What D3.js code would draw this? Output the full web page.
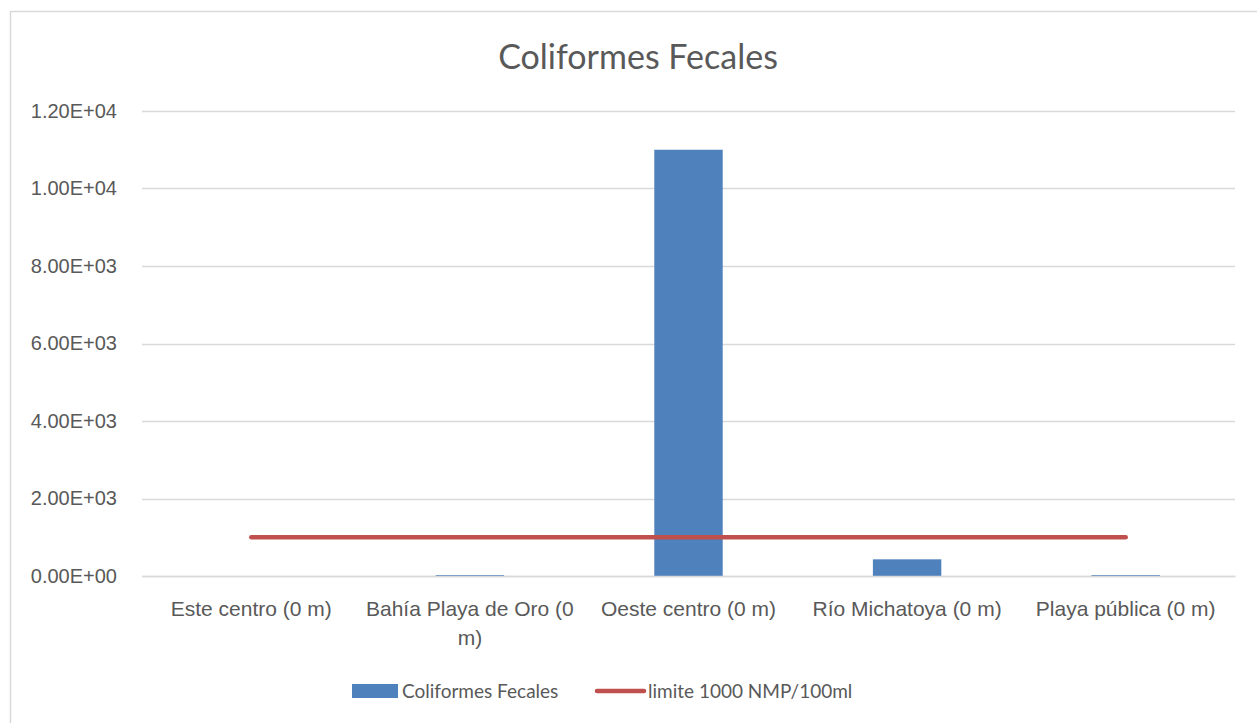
<!DOCTYPE html>
<html>
<head>
<meta charset="utf-8">
<script src="https://cdn.jsdelivr.net/npm/d3@7"></script>
<style>
  body { margin: 0; background: #fff; }
  svg { display: block; font-family: Lato, "Open Sans", sans-serif; }
</style>
</head>
<body>
<svg id="chart" width="1257" height="723"></svg>
<script>
// datos
var sitios = ["Este centro (0 m)", "Bahía Playa de Oro (0 m)", "Oeste centro (0 m)", "Río Michatoya (0 m)", "Playa pública (0 m)"];
var coliformes = [0, 23, 11000, 430, 23];
var limite = [1000, 1000, 1000, 1000, 1000];
var yTicks = [0, 2000, 4000, 6000, 8000, 10000, 12000];
var titulo = "Coliformes Fecales";
var serieBarras = "Coliformes Fecales";
var serieLinea = "limite 1000 NMP/100ml";

var gris = "#595959";
var svg = d3.select("#chart");

// marco
svg.append("rect")
  .attr("x", 10.5).attr("y", 11.5)
  .attr("width", 1400).attr("height", 900)
  .attr("fill", "none")
  .attr("stroke", "#d9d9d9")
  .attr("stroke-width", 1.5);

var x = d3.scaleBand()
  .domain(sitios)
  .range([142, 1235])
  .padding(0);

var y = d3.scaleLinear()
  .domain([0, 12000])
  .range([576, 111]);

// formato 1.20E+04
function fmt(v) {
  var p = v.toExponential(2).split("e");
  var e = parseInt(p[1]);
  var s = e < 0 ? "-" : "+";
  return p[0] + "E" + s + String(Math.abs(e)).padStart(2, "0");
}

// lineas de la cuadricula
svg.append("g")
  .selectAll("line")
  .data(yTicks)
  .enter().append("line")
    .attr("x1", 142).attr("x2", 1235)
    .attr("y1", d => Math.round(y(d)) + 0.5)
    .attr("y2", d => Math.round(y(d)) + 0.5)
    .attr("stroke", "#d9d9d9")
    .attr("stroke-width", 1.3);

// eje y
var ejeY = svg.append("g")
  .attr("transform", "translate(142,0)")
  .call(d3.axisLeft(y).tickValues(yTicks).tickFormat(fmt).tickSize(0).tickPadding(25));
ejeY.select(".domain").remove();
ejeY.selectAll("text")
  .attr("fill", gris)
  .style("font-size", "20px");

// barras
var barW = x.bandwidth() * 0.313;
svg.append("g")
  .selectAll("rect")
  .data(coliformes)
  .enter().append("rect")
    .attr("x", (d, i) => x(sitios[i]) + (x.bandwidth() - barW) / 2)
    .attr("y", d => y(d))
    .attr("width", barW)
    .attr("height", d => y(0) - y(d))
    .attr("fill", "#4f81bd");

// linea del limite
var linea = d3.line()
  .x((d, i) => x(sitios[i]) + x.bandwidth() / 2)
  .y(d => y(d));
svg.append("path")
  .datum(limite)
  .attr("d", linea)
  .attr("fill", "none")
  .attr("stroke", "#c0504d")
  .attr("stroke-width", 4.5)
  .attr("stroke-linecap", "round");

// eje x
var ejeX = svg.append("g")
  .attr("transform", "translate(0,576)")
  .call(d3.axisBottom(x).tickSize(0).tickPadding(25));
ejeX.select(".domain")
  .attr("stroke", "#d9d9d9")
  .attr("stroke-width", 1.3);
ejeX.selectAll("text")
  .attr("fill", gris)
  .style("font-size", "21px")
  .call(wrap, x.bandwidth() - 4);

function wrap(textos, ancho) {
  textos.each(function() {
    var t = d3.select(this);
    var palabras = t.text().split(/\s+/);
    var yy = t.attr("y"), dy = t.attr("dy");
    t.text(null);
    var linea = [];
    var n = 0;
    var tspan = t.append("tspan").attr("x", 0).attr("y", yy).attr("dy", dy);
    palabras.forEach(function(p) {
      linea.push(p);
      tspan.text(linea.join(" "));
      if (tspan.node().getComputedTextLength() > ancho && linea.length > 1) {
        linea.pop();
        tspan.text(linea.join(" "));
        linea = [p];
        n++;
        tspan = t.append("tspan").attr("x", 0).attr("y", yy)
          .attr("dy", (n * 1.38 + parseFloat(dy)) + "em").text(p);
      }
    });
  });
}

// titulo
svg.append("text")
  .attr("x", 638).attr("y", 69)
  .attr("text-anchor", "middle")
  .attr("fill", gris)
  .style("font-size", "34px")
  .text(titulo);

// leyenda
var ley = svg.append("g").attr("transform", "translate(0,691)");
ley.append("rect")
  .attr("x", 352).attr("y", -7)
  .attr("width", 46).attr("height", 14)
  .attr("fill", "#4f81bd");
ley.append("text")
  .attr("x", 402).attr("y", 0).attr("dy", "0.35em")
  .attr("fill", gris).style("font-size", "19px")
  .text(serieBarras);
ley.append("line")
  .attr("x1", 597).attr("x2", 644)
  .attr("y1", 0).attr("y2", 0)
  .attr("stroke", "#c0504d")
  .attr("stroke-width", 4.5)
  .attr("stroke-linecap", "round");
ley.append("text")
  .attr("x", 648).attr("y", 0).attr("dy", "0.35em")
  .attr("fill", gris).style("font-size", "19px")
  .text(serieLinea);
</script>
</body>
</html>
